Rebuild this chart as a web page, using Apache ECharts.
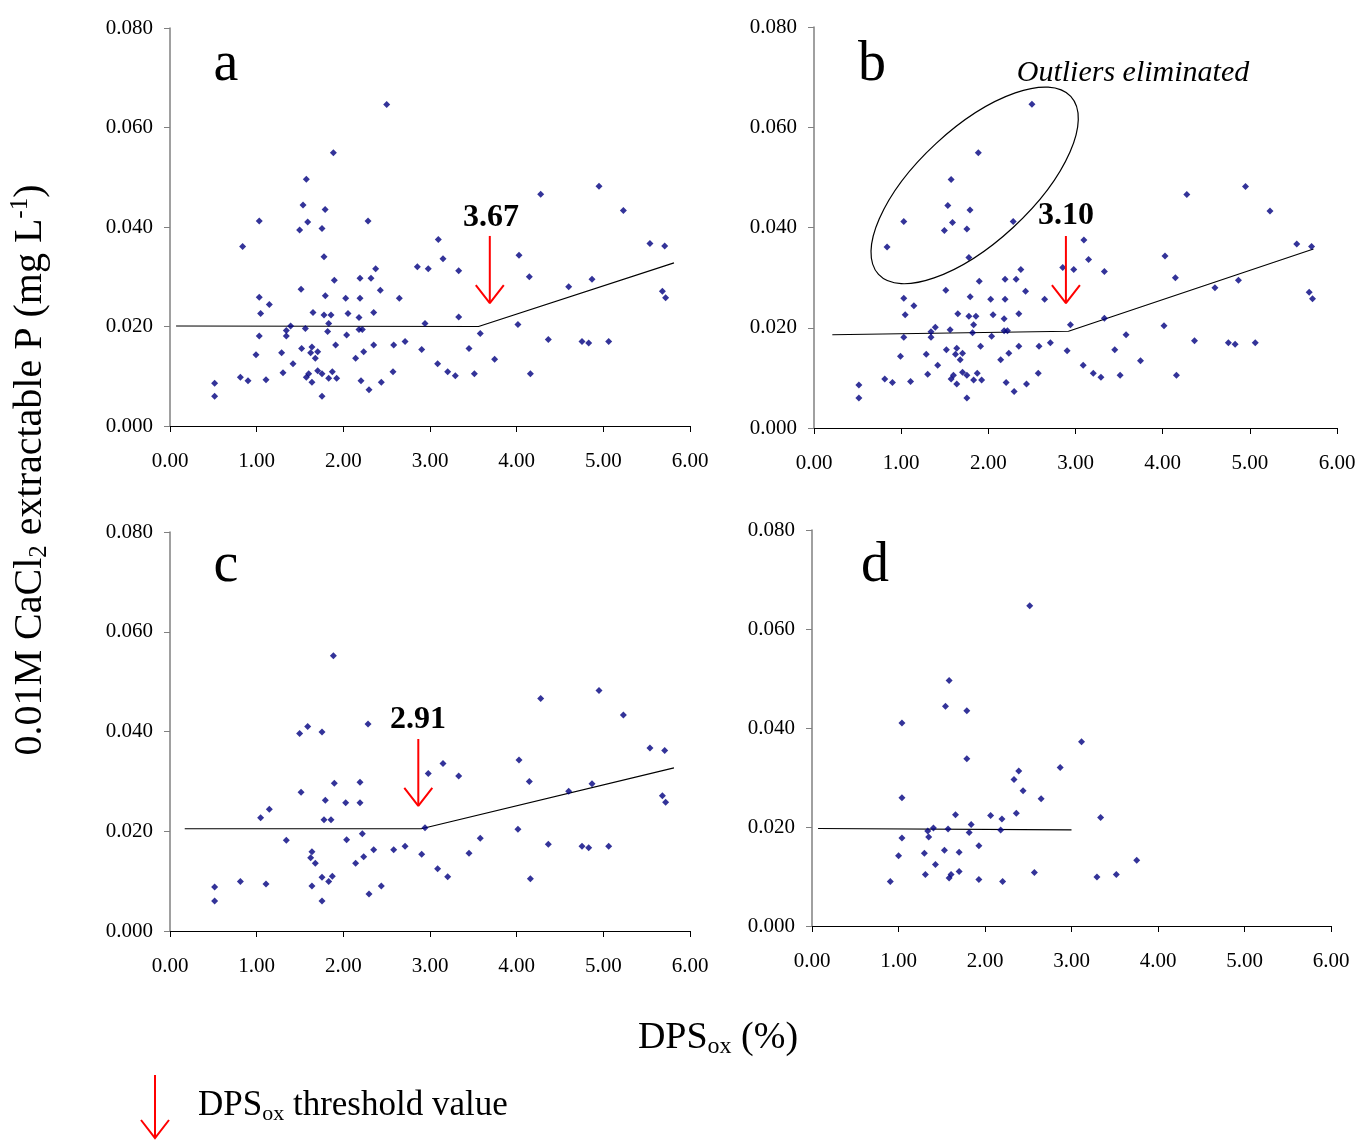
<!DOCTYPE html>
<html><head><meta charset="utf-8">
<script src="https://cdn.jsdelivr.net/npm/echarts@6/dist/echarts.min.js"></script>
<style>html,body{margin:0;padding:0;background:#fff}#c{width:1362px;height:1140px}</style>
</head><body><div id="c"></div>
<script>
// ---- data ----
const xTickValues = [0, 1, 2, 3, 4, 5, 6];
const yTickValues = [0, 0.02, 0.04, 0.06, 0.08];
const panelLetters = ['a', 'b', 'c', 'd'];

// all samples (panels a and b)
const dataAll = [
[2.50,0.0646],[1.885,0.0549],[1.573,0.0496],[1.535,0.0444],[1.79,0.0435],[1.03,0.0412],[1.589,0.0410],[2.285,0.0412],
[1.496,0.0394],[1.754,0.0397],[0.838,0.0361],[1.777,0.0340],[2.854,0.0320],[2.98,0.0316],[2.373,0.0316],[2.319,0.0297],
[2.192,0.0297],[1.896,0.0293],[2.427,0.0273],[1.512,0.0275],[1.792,0.0262],[2.027,0.0257],[2.192,0.0257],[2.646,0.0257],
[1.03,0.0259],[1.146,0.0244],[1.046,0.0226],[1.65,0.0228],[1.777,0.0223],[1.858,0.0223],[2.054,0.0226],[2.181,0.0218],
[2.35,0.0228],[1.831,0.0206],[1.392,0.0201],[2.942,0.0206],[1.342,0.0192],[1.562,0.0196],[1.819,0.0190],[2.181,0.0194],
[2.219,0.0194],[1.03,0.0181],[1.342,0.0181],[2.038,0.0183],[1.911,0.0163],[2.35,0.0163],[2.581,0.0163],[2.712,0.0170],
[2.904,0.0154],[1.519,0.0156],[1.638,0.0159],[1.704,0.0149],[1.623,0.0147],[1.288,0.0147],[0.992,0.0143],[1.677,0.0136],
[2.142,0.0136],[2.235,0.0149],[1.419,0.0125],[1.304,0.0107],[1.704,0.0111],[1.60,0.0105],[1.573,0.0098],[1.754,0.0105],
[1.873,0.0109],[1.831,0.0096],[1.923,0.0096],[1.638,0.0088],[2.573,0.0109],[2.204,0.0091],[2.438,0.0088],[2.296,0.0073],
[1.754,0.0060],[0.812,0.0098],[0.9,0.0091],[1.108,0.0093],[0.515,0.0086],[0.515,0.0060],
[3.096,0.0375],[3.15,0.0336],[3.331,0.0312],[3.331,0.0219],[3.088,0.0125],[3.204,0.0109],[3.292,0.0101],[3.45,0.0156],
[3.512,0.0105],[3.58,0.0186],[3.746,0.0134],[4.015,0.0204],[4.027,0.0343],[4.146,0.0300],[4.158,0.0105],[4.277,0.0466],
[4.365,0.0174],[4.6,0.0280],[4.754,0.0170],[4.831,0.0167],[4.869,0.0295],[4.95,0.0482],[5.062,0.0170],[5.231,0.0433],
[5.538,0.0367],[5.708,0.0362],[5.681,0.0271],[5.719,0.0258]
];

const dataC = [
[1.885,0.0552],[1.496,0.0396],[1.589,0.0410],[1.754,0.0399],[2.285,0.0415],[1.512,0.0278],[1.896,0.0296],[2.192,0.0298],
[1.792,0.0262],[2.027,0.0257],[2.192,0.0257],[1.046,0.0227],[1.146,0.0244],[1.777,0.0223],[1.858,0.0223],[1.342,0.0182],
[2.038,0.0183],[2.219,0.0195],[1.638,0.0159],[1.623,0.0147],[1.677,0.0136],[2.142,0.0136],[2.235,0.0149],[2.35,0.0163],
[2.581,0.0163],[2.712,0.0170],[2.904,0.0154],[2.942,0.0207],[2.98,0.0316],[0.515,0.0088],[0.515,0.0060],[0.812,0.0099],
[1.108,0.0094],[1.638,0.0090],[1.754,0.0108],[1.873,0.0110],[1.831,0.0099],[1.754,0.0060],[2.296,0.0074],[2.438,0.0090],
[3.15,0.0336],[3.331,0.0311],[3.088,0.0125],[3.204,0.0109],[3.45,0.0156],[3.58,0.0186],[4.015,0.0204],[4.027,0.0343],
[4.146,0.0300],[4.158,0.0105],[4.277,0.0466],[4.365,0.0174],[4.6,0.0280],[4.754,0.0170],[4.831,0.0167],[4.869,0.0295],
[4.95,0.0482],[5.062,0.0170],[5.231,0.0433],[5.538,0.0367],[5.708,0.0362],[5.681,0.0271],[5.719,0.0258]
];

const dataD = [
[2.517,0.0647],[1.585,0.0496],[1.543,0.0444],[1.79,0.0435],[1.04,0.0410],[3.116,0.0372],[1.79,0.0338],[2.869,0.0320],
[2.39,0.0313],[2.335,0.0296],[2.44,0.0273],[2.649,0.0257],[1.04,0.0259],[1.659,0.0225],[2.065,0.0223],[2.196,0.0216],
[2.362,0.0228],[3.337,0.0219],[1.404,0.0198],[1.338,0.0192],[1.573,0.0196],[1.84,0.0205],[1.817,0.0189],[2.181,0.0194],
[1.04,0.0178],[1.349,0.0180],[1.531,0.0153],[1.701,0.0149],[1.929,0.0162],[1.299,0.0147],[1.001,0.0142],[1.427,0.0124],
[1.311,0.0104],[1.701,0.0110],[1.608,0.0104],[1.585,0.0097],[1.929,0.0094],[2.204,0.0090],[0.905,0.0090],[2.571,0.0108],
[3.294,0.0099],[3.518,0.0104],[3.754,0.0133]
];

// segmented regression lines
const lineA = [[0.07,0.0201],[3.56,0.0200],[5.815,0.0328]];
const lineB = [[0.21,0.0186],[2.92,0.0193],[5.73,0.0357]];
const lineC = [[0.17,0.0205],[2.90,0.0205],[5.815,0.0327]];
const lineD = [[0.07,0.0197],[3.00,0.0194]];

// threshold arrows (panels a, b, c)
const thresholdLabels = ['3.67', '3.10', '2.91'];
const arrowX = [3.69, 2.89, 2.865];
const arrowYTop = [0.0382, 0.0383, 0.0385];
const arrowYTip = [0.0247, 0.0249, 0.0251];
const labelPos = [[3.704, 0.0418], [2.89, 0.0423], [2.861, 0.0423]];

// outlier ellipse in panel b (data-space centre)
const ellipseCenter = [1.843, 0.0484];

// ---- chart ----
const FONT = 'Liberation Serif';
const chart = echarts.init(document.getElementById('c'), null, {renderer: 'canvas'});

const grids = [
  {left: 170, top: 28, width: 520, height: 398},
  {left: 814, top: 27, width: 523, height: 401},
  {left: 170, top: 532, width: 520, height: 399},
  {left: 812, top: 530, width: 519, height: 396}
];

function xAx(i) {
  return {
    type: 'value', gridIndex: i, min: xTickValues[0], max: xTickValues[xTickValues.length - 1], interval: 1,
    axisLine: {show: true, lineStyle: {color: '#000', width: 1}},
    axisTick: {show: true, length: 6, lineStyle: {color: '#000'}},
    axisLabel: {formatter: v => v.toFixed(2), fontFamily: FONT, fontSize: 21, color: '#000', margin: 25},
    splitLine: {show: false}
  };
}
function yAx(i) {
  return {
    type: 'value', gridIndex: i, min: yTickValues[0], max: yTickValues[yTickValues.length - 1], interval: 0.02,
    axisLine: {show: true, lineStyle: {color: '#808080', width: 1.5}},
    axisTick: {show: true, length: 6, lineStyle: {color: '#808080'}},
    axisLabel: {formatter: v => v.toFixed(3), fontFamily: FONT, fontSize: 21, color: '#000', margin: 17},
    splitLine: {show: false}
  };
}

const series = [];
const panelData = [dataAll, dataAll, dataC, dataD];
const panelLines = [lineA, lineB, lineC, lineD];
for (let i = 0; i < 4; i++) {
  series.push({
    type: 'line', xAxisIndex: i, yAxisIndex: i, data: panelLines[i], symbol: 'none',
    lineStyle: {color: '#000', width: 1.2}, z: 2, silent: true
  });
  series.push({
    type: 'scatter', xAxisIndex: i, yAxisIndex: i, data: panelData[i], symbol: 'diamond', symbolSize: 7,
    itemStyle: {color: '#000080'}, z: 3, silent: true
  });
}
for (let k = 0; k < 3; k++) {
  const gi = k; // panels a,b,c
  const dx = (k === 1 ? 14 / 87.2 : 14 / 86.67);
  const dy = 0.0036;
  series.push({
    type: 'line', xAxisIndex: gi, yAxisIndex: gi, symbol: 'none', silent: true, z: 5,
    data: [[arrowX[k], arrowYTop[k]], [arrowX[k], arrowYTip[k]]],
    lineStyle: {color: '#ff0000', width: 2}
  });
  series.push({
    type: 'line', xAxisIndex: gi, yAxisIndex: gi, symbol: 'none', silent: true, z: 5,
    data: [[arrowX[k] - dx, arrowYTip[k] + dy], [arrowX[k], arrowYTip[k]], [arrowX[k] + dx, arrowYTip[k] + dy]],
    lineStyle: {color: '#ff0000', width: 2}
  });
  series.push({
    type: 'scatter', xAxisIndex: gi, yAxisIndex: gi, symbolSize: 0, silent: true, z: 6,
    data: [{value: labelPos[k], name: thresholdLabels[k]}],
    label: {show: true, position: 'inside', formatter: '{b}', fontFamily: FONT, fontSize: 32,
            fontWeight: 'bold', color: '#000', textBorderWidth: 0, textBorderColor: 'transparent', opacity: 1}
  });
}

chart.setOption({
  animation: false,
  backgroundColor: '#fff',
  grid: grids,
  xAxis: [0, 1, 2, 3].map(xAx),
  yAxis: [0, 1, 2, 3].map(yAx),
  series: series
});

const ec = chart.convertToPixel({gridIndex: 1}, ellipseCenter);
const letterPos = [[226, 65], [872, 65], [226, 566], [875, 566]];
const graphic = [];
panelLetters.forEach((t, i) => {
  graphic.push({type: 'text', x: letterPos[i][0], y: letterPos[i][1],
    style: {text: t, fontFamily: FONT, fontSize: 56, fill: '#000', align: 'center', verticalAlign: 'middle'}});
});
graphic.push({type: 'ellipse', x: ec[0], y: ec[1], rotation: 0.747,
  shape: {cx: 0, cy: 0, rx: 131, ry: 57}, style: {fill: 'none', stroke: '#000', lineWidth: 1.2}, z: 10});
graphic.push({type: 'text', x: 1133, y: 73,
  style: {text: 'Outliers eliminated', fontFamily: FONT, fontStyle: 'italic', fontSize: 30, fill: '#000',
          align: 'center', verticalAlign: 'middle'}});
graphic.push({type: 'text', x: 30, y: 470, rotation: Math.PI / 2,
  style: {text: '0.01M CaCl{sub|2} extractable P (mg L{sup|-1})', fontFamily: FONT, fontSize: 40, lineHeight: 44,
          fill: '#000', align: 'center', verticalAlign: 'middle',
          rich: {sub: {fontFamily: FONT, fontSize: 25, lineHeight: 25, verticalAlign: 'bottom'},
                 sup: {fontFamily: FONT, fontSize: 25, lineHeight: 25, verticalAlign: 'top'}}}});
graphic.push({type: 'text', x: 718, y: 1038,
  style: {text: 'DPS{sub|ox} (%)', fontFamily: FONT, fontSize: 38, lineHeight: 42, fill: '#000',
          align: 'center', verticalAlign: 'middle',
          rich: {sub: {fontFamily: FONT, fontSize: 24, lineHeight: 24, verticalAlign: 'bottom'}}}});
graphic.push({type: 'text', x: 198, y: 1106,
  style: {text: 'DPS{sub|ox} threshold value', fontFamily: FONT, fontSize: 35, lineHeight: 39, fill: '#000',
          align: 'left', verticalAlign: 'middle',
          rich: {sub: {fontFamily: FONT, fontSize: 22, lineHeight: 22, verticalAlign: 'bottom'}}}});
graphic.push({type: 'polyline', shape: {points: [[155, 1075], [155, 1138]]},
  style: {stroke: '#ff0000', lineWidth: 2, fill: 'none'}});
graphic.push({type: 'polyline', shape: {points: [[141, 1120], [155, 1138], [169, 1120]]},
  style: {stroke: '#ff0000', lineWidth: 2, fill: 'none'}});

chart.setOption({graphic: graphic});
</script>
</body></html>
